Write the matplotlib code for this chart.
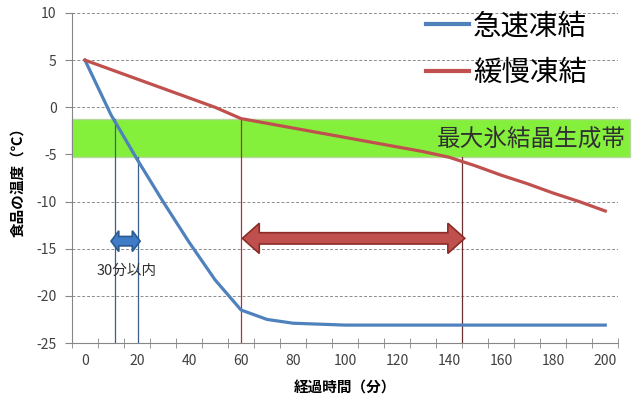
import numpy as np
import matplotlib.pyplot as plt
from matplotlib.patches import Polygon, Rectangle

plt.rcParams['font.family'] = ['Noto Sans CJK JP', 'DejaVu Sans']
plt.rcParams['axes.unicode_minus'] = False

# elapsed time (min) and food temperature (C)
minutes = [0, 10, 20, 30, 40, 50, 60, 70, 80, 90, 100, 110, 120, 130, 140, 150, 160, 170, 180, 190, 200]
quick_temp = [5, -0.8, -5.5, -10.0, -14.3, -18.3, -21.5, -22.5, -22.9, -23.0, -23.1, -23.1, -23.1, -23.1,
              -23.1, -23.1, -23.1, -23.1, -23.1, -23.1, -23.1]
slow_temp = [5, 4.0, 3.0, 2.0, 1.0, 0.0, -1.2, -1.7, -2.2, -2.7, -3.2, -3.7, -4.2, -4.7, -5.3,
             -6.2, -7.2, -8.1, -9.1, -10.0, -11.0]
series_names = ['急速凍結', '緩慢凍結']

# zone of maximum ice crystal formation
zone_top, zone_bottom = -1.2, -5.3
zone_label = '最大氷結晶生成帯'

# passage times through the zone
quick_in, quick_out = 11.4, 20.5
slow_in, slow_out = 60, 145
note_text = '30分以内'

blue = '#4f81bd'
red = '#c0504d'

fig = plt.figure(figsize=(6.33, 4.01), dpi=100)
ax = fig.add_axes([0.1137, 0.1446, 0.863, 0.823])
ax.set_xlim(-5, 205)
ax.set_ylim(-25, 10)

ax.set_yticks(np.arange(-25, 11, 5))
ax.set_xticks(np.arange(0, 201, 20))
ax.set_xticks(np.arange(-5, 206, 10), minor=True)
ax.grid(axis='y', linestyle=(0, (3, 2)), color='#8c8c8c', linewidth=0.7)
ax.set_axisbelow(True)
for s in ['top', 'right']:
    ax.spines[s].set_visible(False)
for s in ['left', 'bottom']:
    ax.spines[s].set_color('#868686')
ax.tick_params(axis='x', which='major', length=0, labelsize=10, colors='#404040', pad=8)
ax.tick_params(axis='x', which='minor', direction='inout', length=7, color='#868686')
ax.tick_params(axis='y', direction='out', length=5, labelsize=10, colors='#404040', pad=6)
ax.tick_params(axis='y', color='#868686')

# green band
band = Rectangle((-5, zone_bottom), 214.5, zone_top - zone_bottom, facecolor='#85f03c',
                 edgecolor='#b8d8a0', linewidth=1.0, clip_on=False, zorder=1)
ax.add_patch(band)
ax.text(207.8, (zone_top + zone_bottom) / 2 - 0.15, zone_label, ha='right', va='center',
        fontsize=17, color='#303030', zorder=5, clip_on=False)

ax.plot(minutes, quick_temp, color=blue, linewidth=2.3, zorder=4, label=series_names[0])
ax.plot(minutes, slow_temp, color=red, linewidth=2.3, zorder=4, label=series_names[1])

# marker lines where each curve enters and leaves the band
ax.plot([quick_in, quick_in], [-25, zone_top], color='#3a5f8f', linewidth=0.9, zorder=3)
ax.plot([quick_out, quick_out], [-25, zone_bottom], color='#3a5f8f', linewidth=0.9, zorder=3)
ax.plot([slow_in, slow_in], [-25, zone_top], color='#b03040', linewidth=0.9, zorder=3)
ax.plot([slow_out, slow_out], [-25, zone_bottom], color='#6a3030', linewidth=0.9, zorder=3)


def double_arrow(x0, x1, yc, body, head, head_len, face, edge):
    pts = [(x0, yc), (x0 + head_len, yc + head / 2), (x0 + head_len, yc + body / 2),
           (x1 - head_len, yc + body / 2), (x1 - head_len, yc + head / 2), (x1, yc),
           (x1 - head_len, yc - head / 2), (x1 - head_len, yc - body / 2),
           (x0 + head_len, yc - body / 2), (x0 + head_len, yc - head / 2)]
    ax.add_patch(Polygon(pts, closed=True, facecolor=face, edgecolor=edge, linewidth=1.2, zorder=6))


double_arrow(10.0, 21.2, -14.2, 1.0, 2.2, 3.0, '#3f7cc8', '#2b5a92')
double_arrow(60.5, 146, -13.9, 1.2, 3.2, 6.5, red, '#8c2c28')
ax.text(16, -17.3, note_text, ha='center', va='center', fontsize=10.5, color='#303030', zorder=6)

ax.set_ylabel('食品の温度（℃）', fontsize=10.5, fontweight='bold', labelpad=8)
ax.set_xlabel('経過時間（分）', fontsize=10.5, fontweight='bold', labelpad=8)

leg = ax.legend(loc='upper right', bbox_to_anchor=(0.99, 1.083), frameon=False, fontsize=20.5,
                handlelength=1.5, handletextpad=0.15, labelspacing=0.6)
for h in leg.get_lines():
    h.set_linewidth(3)

fig.savefig('out.png', dpi=100)
